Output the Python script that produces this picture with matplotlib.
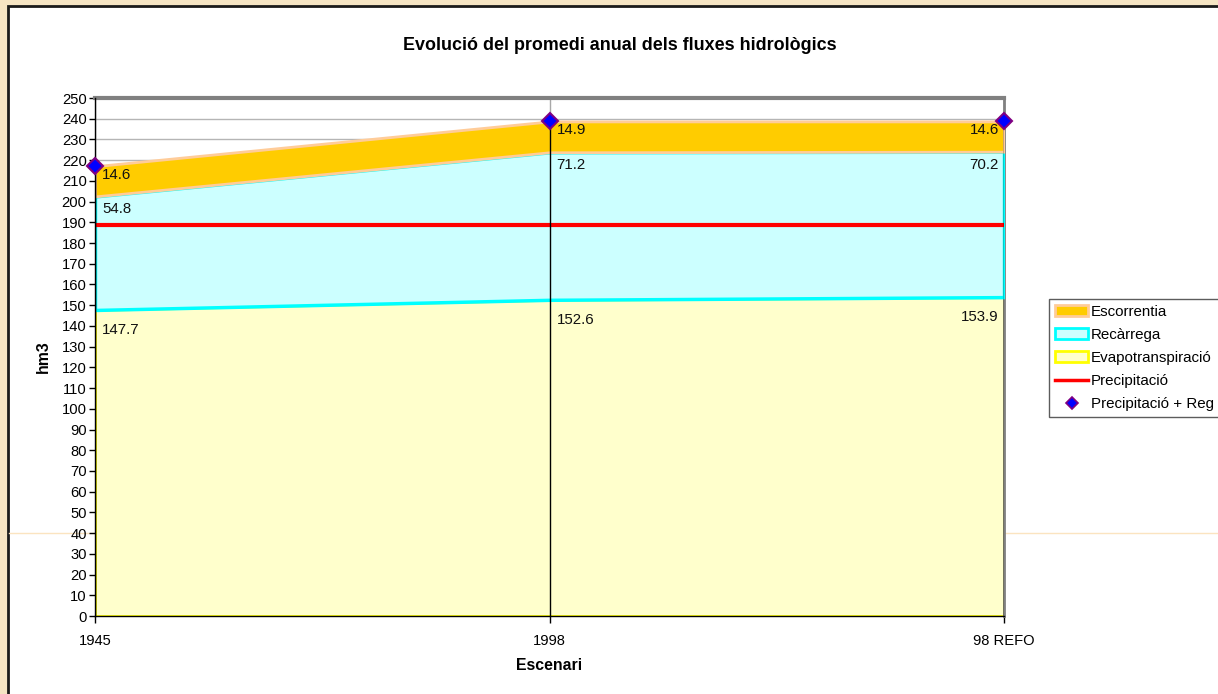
import matplotlib
matplotlib.use('Agg')
import matplotlib.pyplot as plt
from matplotlib.patches import Rectangle, Patch
from matplotlib.lines import Line2D

plt.rcParams['font.family'] = ['Liberation Sans', 'DejaVu Sans']

# Data
scenarios = ['1945', '1998', '98 REFO']
evapotranspiracio = [147.7, 152.6, 153.9]
recarrega = [54.8, 71.2, 70.2]
escorrentia = [14.6, 14.9, 14.6]
precipitacio = [188.7, 188.7, 188.7]
precipitacio_reg = [217.1, 238.7, 238.7]
y_ticks = list(range(0, 251, 10))

W, H = 1218, 694
fig = plt.figure(figsize=(W / 100, H / 100), dpi=100, facecolor='#F5E4C3')

# white chart panel with black frame
fig.add_artist(Rectangle((8 / W, -0.1), 1.2, 1.1 - 6 / H, transform=fig.transFigure,
                         facecolor='white', edgecolor='#1a1a1a', lw=2, zorder=-2))
# faint rule behind the plot
fig.add_artist(Line2D([9 / W, 1], [1 - 533 / H] * 2, transform=fig.transFigure,
                      color='#FBE4C0', lw=1, zorder=-1))

ax = fig.add_axes([95 / W, 1 - 616 / H, (1004 - 95) / W, (616 - 98) / H])
ax.set_facecolor('white')

x = list(range(len(scenarios)))
top_e = evapotranspiracio
top_r = [a + b for a, b in zip(top_e, recarrega)]
top_s = [a + b for a, b in zip(top_r, escorrentia)]

ax.fill_between(x, 0, top_e, facecolor='#FFFFCC', edgecolor='#FFFF00', lw=2, zorder=2)
ax.fill_between(x, top_e, top_r, facecolor='#CCFFFF', edgecolor='#00FFFF', lw=2.5, zorder=3)
ax.fill_between(x, top_r, top_s, facecolor='#FFCC00', edgecolor='#FFCC99', lw=2, zorder=4)

ax.plot(x, precipitacio, color='#FF0000', lw=3, zorder=5)

# drop lines and category gridlines
ax.vlines(x, 0, top_s, color='black', lw=1, zorder=6)
ax.vlines(x, top_s, 250, color='#A8A8A8', lw=1, zorder=1)

ax.plot(x, precipitacio_reg, ls='none', marker='D', ms=8, mfc='#0000FF',
        mec='#800080', mew=1.5, zorder=8, clip_on=False)

# value labels
for series, tops, dy in ((escorrentia, top_s, 9), (recarrega, top_r, 13), (evapotranspiracio, top_e, 20)):
    for i, (v, t) in enumerate(zip(series, tops)):
        last = i == len(x) - 1
        ax.annotate(f'{v:.1f}', (i, t), xytext=(-5 if last else 7, -dy),
                    textcoords='offset pixels', ha='right' if last else 'left',
                    va='center', fontsize=10.8, color='#111111', zorder=9)

ax.set_xlim(0, 2)
ax.set_ylim(0, 250)
ax.set_yticks(y_ticks)
ax.set_xticks(x)
ax.set_xticklabels(scenarios)
ax.yaxis.grid(True, color='#B5B5B5', lw=1)
ax.set_axisbelow(True)
ax.tick_params(axis='y', length=4, width=1, pad=2, labelsize=10.6, direction='out')
ax.tick_params(axis='x', length=5, width=1, pad=8, labelsize=10.6, direction='out')

for side in ('left', 'bottom'):
    ax.spines[side].set_color('black')
    ax.spines[side].set_linewidth(1)
    ax.spines[side].set_zorder(7)
ax.spines['top'].set_color('#808080')
ax.spines['top'].set_linewidth(3)
ax.spines['right'].set_color('#808080')
ax.spines['right'].set_linewidth(2)

fig.text(620 / W, 1 - 45 / H, 'Evolució del promedi anual dels fluxes hidrològics',
         ha='center', va='center', fontsize=12.9, fontweight='bold')
fig.text(549 / W, 1 - 666 / H, 'Escenari', ha='center', va='center',
         fontsize=11.4, fontweight='bold')
fig.text(43 / W, 1 - 357 / H, 'hm3', ha='center', va='center', rotation=90,
         fontsize=11.4, fontweight='bold')

handles = [
    Patch(facecolor='#FFCC00', edgecolor='#FFCC99', lw=2),
    Patch(facecolor='#CCFFFF', edgecolor='#00FFFF', lw=2),
    Patch(facecolor='#FFFFCC', edgecolor='#FFFF00', lw=2),
    Line2D([], [], color='#FF0000', lw=2.5),
    Line2D([], [], ls='none', marker='D', ms=6, mfc='#0000FF', mec='#800080', mew=1.2),
]
labels = ['Escorrentia', 'Recàrrega', 'Evapotranspiració', 'Precipitació', 'Precipitació + Reg']
leg = fig.legend(handles, labels, loc='upper left', bbox_to_anchor=(1049 / W, 1 - 299 / H),
                 frameon=True, fancybox=False, edgecolor='#333333', fontsize=10.9,
                 borderpad=0.4, labelspacing=0.6, handlelength=2.2, handleheight=0.75,
                 handletextpad=0.15, borderaxespad=0)
leg.get_frame().set_linewidth(1)

fig.savefig('out.png', dpi=100, facecolor=fig.get_facecolor())
